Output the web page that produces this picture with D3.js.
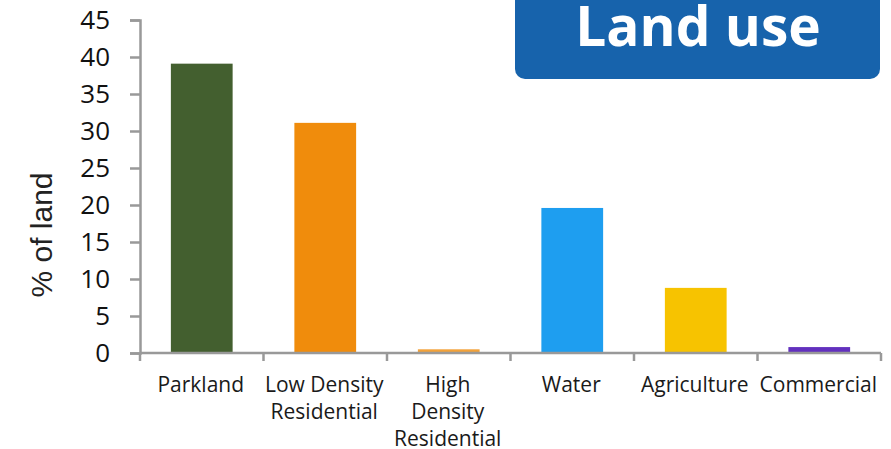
<!DOCTYPE html>
<html>
<head>
<meta charset="utf-8">
<script src="https://cdn.jsdelivr.net/npm/d3@7"></script>
<style>
  html, body { margin: 0; padding: 0; background: #fff; }
  svg { display: block; }
</style>
</head>
<body>
<svg id="chart" width="891" height="449"></svg>
<script>
const categories = ["Parkland", "Low Density\nResidential", "High\nDensity\nResidential", "Water", "Agriculture", "Commercial"];
const values = [39.1, 31.1, 0.5, 19.6, 8.8, 0.8];
const colors = ["#435F2F", "#F08C0C", "#F2A23A", "#1E9EF0", "#F7C300", "#6230BE"];
const yTicks = [0, 5, 10, 15, 20, 25, 30, 35, 40, 45];
const title = "Land use";
const yLabel = "% of land";

const svg = d3.select("#chart");
const x = d3.scaleBand().domain(categories).range([140, 881]).paddingInner(0.5).paddingOuter(0.25);
const y = d3.scaleLinear().domain([0, 45]).range([353, 20]);

// bars
svg.append("g").selectAll("rect").data(values).join("rect")
  .attr("x", (d, i) => x(categories[i]))
  .attr("width", x.bandwidth())
  .attr("y", d => y(d))
  .attr("height", d => y(0) - y(d))
  .attr("fill", (d, i) => colors[i]);

// y axis
const yAxis = svg.append("g").attr("transform", "translate(140,0)")
  .call(d3.axisLeft(y).tickValues(yTicks).tickSize(10).tickPadding(20));
yAxis.select(".domain").attr("stroke", "#999").attr("stroke-width", 2.5);
yAxis.selectAll(".tick line").attr("stroke", "#999").attr("stroke-width", 2.5);
yAxis.selectAll(".tick text")
  .attr("font-family", "'Open Sans', sans-serif")
  .attr("font-size", 26).attr("fill", "#111");

// x axis with boundary ticks
const step = x.step();
const boundaries = d3.range(categories.length + 1).map(i => 140 + i * step);
const xg = svg.append("g");
xg.append("line").attr("x1", 140).attr("x2", 881).attr("y1", y(0)).attr("y2", y(0))
  .attr("stroke", "#999").attr("stroke-width", 2.5);
xg.selectAll("line.t").data(boundaries).join("line").attr("class", "t")
  .attr("x1", d => d).attr("x2", d => d).attr("y1", y(0)).attr("y2", y(0) + 8)
  .attr("stroke", "#999").attr("stroke-width", 2.5);

// category labels
const lbl = svg.append("g").selectAll("text").data(categories).join("text")
  .attr("text-anchor", "middle")
  .attr("font-family", "'Open Sans', sans-serif")
  .attr("font-size", 21).attr("fill", "#1a1a1a")
  .attr("transform", d => `translate(${x(d) + x.bandwidth() / 2 - 1},392)`);
lbl.each(function(d) {
  const t = d3.select(this);
  d.split("\n").forEach((line, i) => {
    t.append("tspan").attr("x", 0).attr("y", i * 27).text(line);
  });
});

// y label
svg.append("text")
  .attr("transform", "translate(52,235) rotate(-90)")
  .attr("text-anchor", "middle")
  .attr("font-family", "'Liberation Sans', Arial, sans-serif")
  .attr("font-size", 30).attr("fill", "#222")
  .text(yLabel);

// title box
svg.append("rect").attr("x", 515).attr("y", -12).attr("width", 365).attr("height", 91)
  .attr("rx", 10).attr("fill", "#1763AC");
svg.append("text").attr("x", 698).attr("y", 46).attr("text-anchor", "middle")
  .attr("font-family", "'Open Sans', sans-serif").attr("font-weight", 700)
  .attr("font-size", 55).attr("fill", "#fff").text(title);
</script>
</body>
</html>
